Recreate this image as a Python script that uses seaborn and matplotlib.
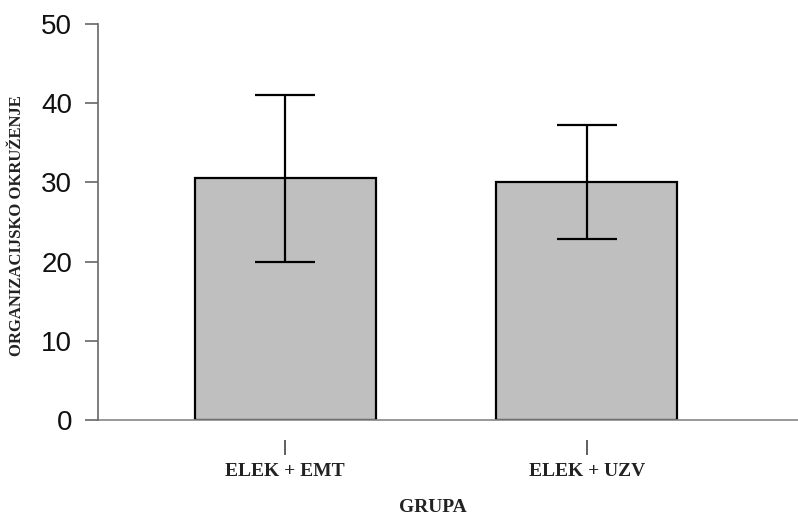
import numpy as np
import matplotlib
matplotlib.use("Agg")
import matplotlib.pyplot as plt
import seaborn as sns

sns.set_style('white')

groups = ['ELEK + EMT', 'ELEK + UZV']
means = [30.5, 30.0]
errors = [10.5, 7.2]
yticks = [0, 10, 20, 30, 40, 50]

fig = plt.figure(figsize=(7.98, 5.18), dpi=100)
ax = fig.add_axes([98 / 798, 98 / 518, 700 / 798, 396 / 518])

sns.barplot(x=groups, y=means, color='#bfbfbf', saturation=1, width=0.6,
            edgecolor='black', linewidth=1.6, ax=ax)
ax.errorbar(x=np.arange(len(groups)), y=means, yerr=errors, fmt='none',
            ecolor='black', elinewidth=1.6, capsize=21.5, capthick=1.6)

# x axis line at zero, ticks pushed down below it
ax.axhline(0, color='#888888', lw=1.2, clip_on=False)
ax.spines['bottom'].set_position(('outward', 14.5))
ax.spines['bottom'].set_visible(False)
ax.spines['top'].set_visible(False)
ax.spines['right'].set_visible(False)
ax.spines['left'].set_color('#666666')
ax.spines['left'].set_linewidth(1.2)

ax.set_ylim(0, 50)
ax.set_xlim(-0.62, 1.70)
ax.set_yticks(yticks)
ax.set_yticklabels([str(t) for t in yticks], family='Liberation Sans', fontsize=20)
ax.set_xticks(range(len(groups)))
ax.set_xticklabels(groups, family='Liberation Serif', fontweight='bold', fontsize=14,
                   color='#222222')

ax.tick_params(axis='x', bottom=True, direction='out', length=10.5, width=1.2,
               color='#444444', pad=6)
ax.tick_params(axis='y', left=True, direction='out', length=9.5, width=1.2,
               color='#666666', pad=9, labelcolor='#111111')

ax.set_ylabel('ORGANIZACIJSKO OKRUŽENJE', family='Liberation Serif', fontweight='bold',
              fontsize=12, color='#222222')
ax.yaxis.set_label_coords(-0.104, 0.492)
ax.set_xlabel('GRUPA', family='Liberation Serif', fontweight='bold', fontsize=14,
              color='#222222')
ax.xaxis.set_label_coords(0.479, -0.200)

plt.savefig('out.png', dpi=100)
